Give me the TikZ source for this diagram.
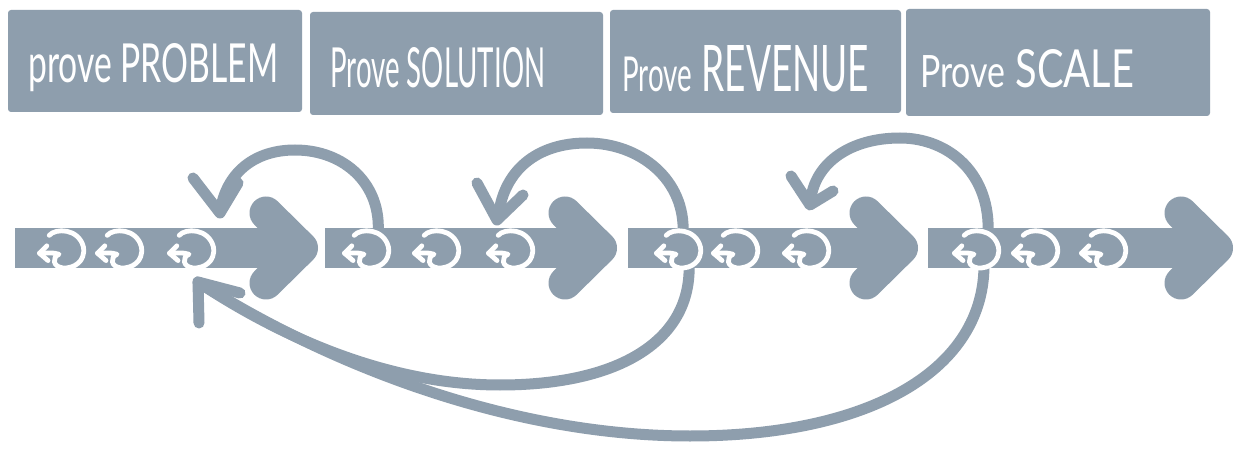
\documentclass[tikz,border=0pt]{standalone}
\usepackage{graphicx}
\usepackage{fontspec}
\setmainfont{Lato}
\usetikzlibrary{arrows.meta}
\definecolor{slate}{RGB}{142,158,173}
\begin{document}
\begin{tikzpicture}[x=1pt,y=-1pt,
  box/.style={fill=slate, rounded corners=3pt, inner sep=0pt, outer sep=0pt},
  lbl/.style={text=white, anchor=base west, inner sep=0pt},
  head/.style={draw=slate, line width=33pt, line cap=round, line join=round},
  loopc/.style={draw=slate, line width=11pt, line cap=round},
  tipv/.style={draw=slate, line width=11pt, line cap=round, line join=round},
  glyph/.pic={
    \draw[white, line width=4.8pt, line cap=round, line join=round]
      (-8,-13) .. controls (-3,-20) and (16,-20) .. (20,-2)
      .. controls (22,12) and (12,19) .. (3,18)
      .. controls (-5,17) and (-6,8) .. (0,5)
      .. controls (-5,3) and (-10,4) .. (-16,4);
    \draw[white, line width=4.8pt, line cap=round, line join=round]
      (-10,-3) -- (-16,4) -- (-9,11);
  }
]
\useasboundingbox (0,0) rectangle (1240,449);
\fill[white] (0,0) rectangle (1240,449);

% header boxes
\node[box, minimum width=294pt, minimum height=102pt] (b1) at (155,61) {};
\node[box, minimum width=293pt, minimum height=103pt] (b2) at (456.5,63.5) {};
\node[box, minimum width=291pt, minimum height=103pt] (b3) at (755.5,61.5) {};
\node[box, minimum width=304pt, minimum height=107pt] (b4) at (1058,62.5) {};

\node[lbl] (t1) at (28,83) {\resizebox{250pt}{39pt}{prove PROBLEM}};
\node[lbl] (t2) at (330,88) {\resizebox{215pt}{40pt}{Prove SOLUTION}};
\node[lbl] (t3) at (622,92) {\resizebox{247pt}{46pt}{{\fontsize{7.5}{9}\selectfont Prove} REVENUE}};
\node[lbl] (t4) at (920,88) {\resizebox{214pt}{38pt}{{\fontsize{8.5}{10}\selectfont Prove} SCALE}};

% connector end points
\coordinate (a0) at (378,234);
\coordinate (a1) at (221,207);
\coordinate (aT) at (220,213);
\coordinate (c0) at (683,234);
\coordinate (c1) at (499,212);
\coordinate (cT) at (497,220);
\coordinate (e0) at (988,234);
\coordinate (e1) at (811,198);
\coordinate (eT) at (810,205);
\coordinate (g0) at (689,262);
\coordinate (h0) at (984,262);
\coordinate (gT) at (198,282);

% top loops
\draw[loopc] (a0) .. controls (382,185) and (345,150) .. (295,150)
  .. controls (255,150) and (228,172) .. (a1);
\draw[tipv] (193,178) -- (aT) -- (238,183);
\draw[loopc] (c0) .. controls (686,180) and (640,143) .. (587,143)
  .. controls (535,143) and (505,172) .. (c1);
\draw[tipv] (477,183) -- (cT) -- (523,195);
\draw[loopc] (e0) .. controls (991,175) and (950,138) .. (900,138)
  .. controls (850,138) and (816,163) .. (e1);
\draw[tipv] (791,176) -- (eT) -- (833,191);

% bottom loops
\draw[loopc] (g0) .. controls (693,340) and (620,385) .. (500,385)
  .. controls (380,385) and (270,330) .. (gT);
\draw[loopc] (h0) .. controls (986,370) and (870,436) .. (690,436)
  .. controls (520,436) and (340,372) .. (gT);
\draw[tipv] (240,293) -- (gT) -- (199,323);

% main arrow segments
\foreach \s/\e in {15/318, 325/617, 628/918, 928/1233}{
  \fill[slate] (\s,228.5) rectangle ({\e-16},268);
  \draw[head] ({\e-52},213) -- ({\e-16.5},248) -- ({\e-52},283);
}

% loop glyphs
\foreach \gx in {59,117,189,364,434,508,676,733,804,974,1033,1101}{
  \pic[xscale=1.22,yscale=1.05] at (\gx,249) {glyph};
}
\end{tikzpicture}
\end{document}
